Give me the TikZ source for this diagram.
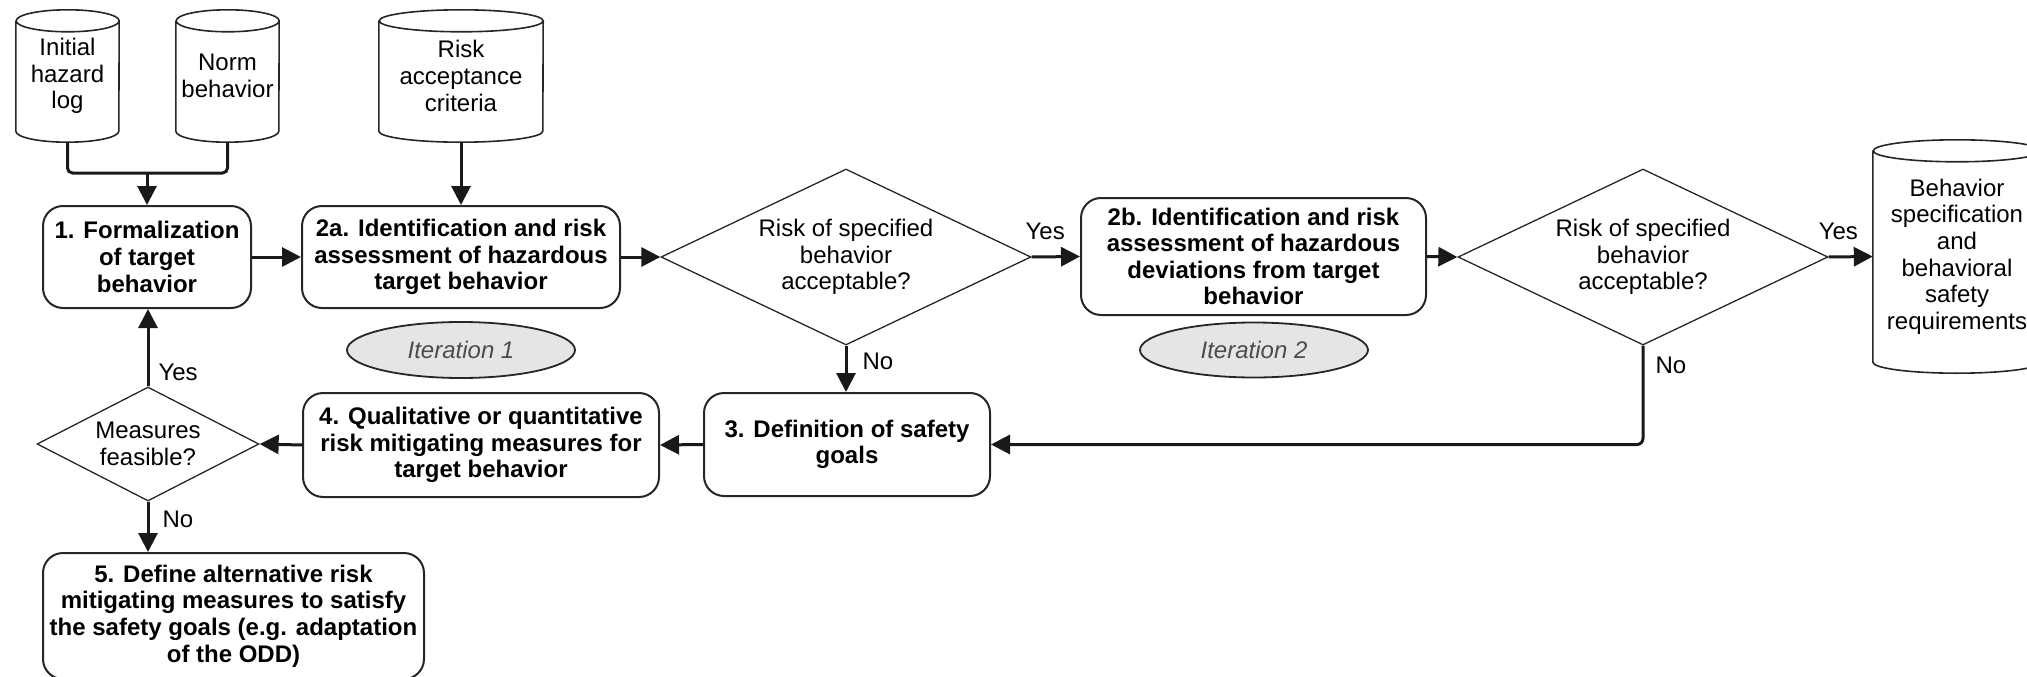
\documentclass[tikz,border=0pt]{standalone}
\usepackage{fontspec}
\setmainfont{Liberation Sans}
\usetikzlibrary{shapes.geometric, arrows.meta, calc}

\newcommand\basefont{\fontsize{24}{26.6}\selectfont}

% Outline of a data-store cylinder around a (borderless) node; #2 = half width
\newcommand\cylinderoutline[2]{%
  \draw[cylline] ($(#1.north west)+(0,-11)$) -- ($(#1.south west)+(0,11)$)
    arc[start angle=180, end angle=360, x radius=#2, y radius=11]
    -- ($(#1.north east)+(0,-11)$)
    arc[start angle=0, end angle=360, x radius=#2, y radius=11];
}

\tikzset{
  every node/.style={font=\basefont, text=black},
  procbox/.style={draw=black!85, line width=2pt, rounded corners=20pt, align=center,
    inner sep=0pt, font=\basefont\bfseries},
  decision/.style={diamond, draw=black!85, line width=1.3pt, aspect=2.1, inner sep=0pt, align=center},
  store/.style={inner sep=0pt, align=center},
  cylline/.style={draw=black!85, line width=1.6pt},
  iter/.style={ellipse, draw=black!85, line width=1.8pt, fill=gray!20, inner sep=0pt,
    text=black!70, font=\basefont\itshape},
  conn/.style={draw=black!90, line width=3pt},
  arr/.style={conn, -{Triangle[length=19pt,width=19pt]}},
  lbl/.style={inner sep=0pt, font=\basefont},
}

\begin{document}
\begin{tikzpicture}[x=1pt, y=1pt]
\path[use as bounding box] (0,0) rectangle (2027,-677);
\clip (0,0) rectangle (2027,-677);

% data stores
\node[store, minimum width=103pt, minimum height=132pt] (log) at (67.5,-76) {Initial\\hazard\\log};
\node[store, minimum width=103pt, minimum height=132pt] (norm) at (227.5,-76) {Norm\\behavior};
\node[store, minimum width=164pt, minimum height=132pt] (crit) at (461,-76) {Risk\\acceptance\\criteria};
\node[store, minimum width=168pt, minimum height=233pt] (spec) at (1957,-256.5)
  {Behavior\\specification\\and\\behavioral\\safety\\requirements};
\cylinderoutline{log}{51.5}
\cylinderoutline{norm}{51.5}
\cylinderoutline{crit}{82}
\cylinderoutline{spec}{84}

% process steps
\node[procbox, minimum width=208pt, minimum height=102pt] (f1) at (147,-257)
  {1. Formalization\\of target\\behavior};
\node[procbox, minimum width=318pt, minimum height=102pt] (f2a) at (461,-257)
  {2a. Identification and risk\\assessment of hazardous\\target behavior};
\node[procbox, minimum width=345pt, minimum height=117pt] (f2b) at (1253.5,-256.5)
  {2b. Identification and risk\\assessment of hazardous\\deviations from target\\behavior};
\node[procbox, minimum width=286pt, minimum height=103pt] (f3) at (847,-444.5)
  {3. Definition of safety\\goals};
\node[procbox, minimum width=356pt, minimum height=104pt] (f4) at (481,-445)
  {4. Qualitative or quantitative\\risk mitigating measures for\\target behavior};
\node[procbox, minimum width=381pt, minimum height=126pt] (f5) at (233.5,-616)
  {5. Define alternative risk\\mitigating measures to satisfy\\the safety goals (e.g. adaptation\\of the ODD)};

% decisions
\node[decision, minimum width=370pt, minimum height=176pt] (d1) at (846,-257)
  {Risk of specified\\behavior\\acceptable?};
\node[decision, minimum width=370pt, minimum height=176pt] (d2) at (1643,-257)
  {Risk of specified\\behavior\\acceptable?};
\node[decision, minimum width=222pt, minimum height=114pt] (d3) at (148,-444)
  {Measures\\feasible?};

% iteration markers
\node[iter, minimum width=228pt, minimum height=56pt] (it1) at (461,-350) {Iteration 1};
\node[iter, minimum width=228pt, minimum height=55pt] (it2) at (1254,-350) {Iteration 2};

% connectors
\coordinate (join) at (147,-173);
\draw[conn, rounded corners=5pt] (log.south) |- (join) -| (norm.south);
\draw[arr] (join) -- (f1.north);
\draw[arr] (crit.south) -- (f2a.north);
\draw[arr] (f1.east) -- (f2a.west);
\draw[arr] (f2a.east) -- (d1.west);
\draw[arr] (d1.east) -- node[lbl, pos=0.28, above=16pt] {Yes} (f2b.west);
\draw[arr] (d1.south) -- node[lbl, pos=0.33, right=15pt] {No} (d1.south |- f3.north);
\draw[arr] (f2b.east) -- (d2.west);
\draw[arr] (d2.east) -- node[lbl, pos=0.22, above=16pt] {Yes} (spec.west);
\draw[arr, rounded corners=6pt] (d2.south) |- node[lbl, pos=0.1, right=11pt] {No} (f3.east);
\draw[arr] (f3.west) -- (f4.east);
\draw[arr] (f4.west) -- (d3.east);
\draw[arr] (d3.north) -- node[lbl, pos=0.18, right=9pt] {Yes} (d3.north |- f1.south);
\draw[arr] (d3.south) -- node[lbl, pos=0.35, right=13pt] {No} (d3.south |- f5.north);
\end{tikzpicture}
\end{document}
